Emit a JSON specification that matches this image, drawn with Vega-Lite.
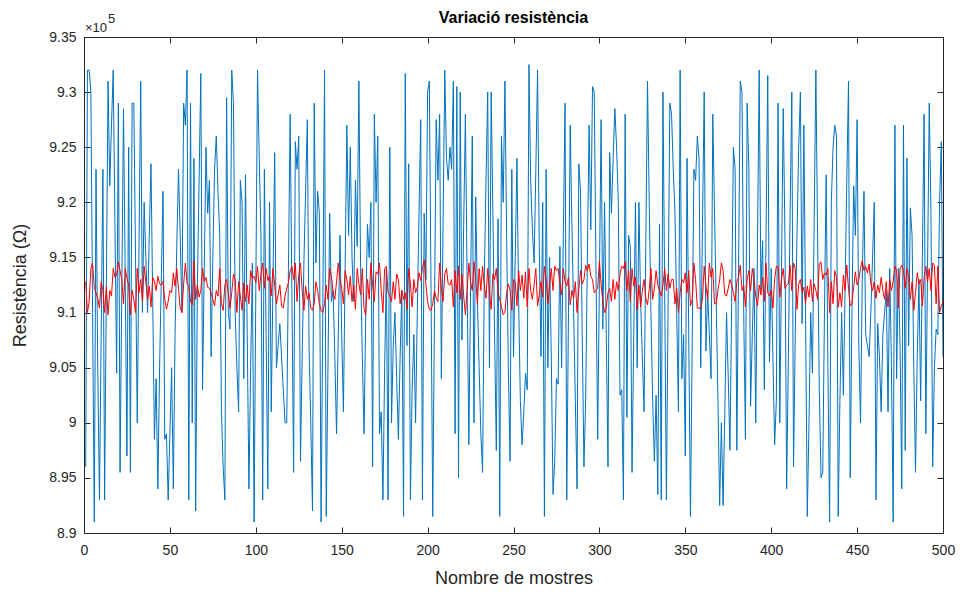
{
"$schema":"https://vega.github.io/schema/vega-lite/v6.json",
"width":859,"height":496,
"autosize":{"type":"none"},
"padding":{"left":84,"top":37,"right":20,"bottom":62},
"background":"#ffffff",
"title":{"text":"Variació resistència","fontSize":16,"fontWeight":"bold","font":"Liberation Sans","color":"#000000","offset":8,"dy":21,"anchor":"middle"},
"config":{"view":{"stroke":null},"axis":{"grid":false,"labelFlush":false,"domainColor":"#262626","tickColor":"#262626","labelColor":"#262626","titleColor":"#262626","labelFont":"Liberation Sans","titleFont":"Liberation Sans","labelFontSize":14,"titleFontSize":18,"titleFontWeight":"normal","tickSize":-6,"domainWidth":1,"tickWidth":1}},
"data":{"values":[
{"i":1,"b":8.96,"r":9.128},{"i":2,"b":9.32,"r":9.100},{"i":3,"b":9.32,"r":9.110},{"i":4,"b":9.30,"r":9.140},{"i":5,"b":9.10,"r":9.145},
{"i":6,"b":8.91,"r":9.122},{"i":7,"b":9.23,"r":9.118},{"i":8,"b":9.05,"r":9.113},{"i":9,"b":8.93,"r":9.104},{"i":10,"b":9.08,"r":9.128},
{"i":11,"b":9.23,"r":9.120},{"i":12,"b":8.93,"r":9.100},{"i":13,"b":9.12,"r":9.123},{"i":14,"b":9.31,"r":9.098},{"i":15,"b":9.215,"r":9.120},
{"i":16,"b":9.27,"r":9.115},{"i":17,"b":9.32,"r":9.140},{"i":18,"b":9.18,"r":9.132},{"i":19,"b":9.045,"r":9.134},{"i":20,"b":9.29,"r":9.146},
{"i":21,"b":8.955,"r":9.138},{"i":22,"b":9.12,"r":9.130},{"i":23,"b":9.285,"r":9.108},{"i":24,"b":9.13,"r":9.140},{"i":25,"b":8.97,"r":9.131},
{"i":26,"b":9.25,"r":9.125},{"i":27,"b":8.955,"r":9.098},{"i":28,"b":9.29,"r":9.120},{"i":29,"b":9.29,"r":9.112},{"i":30,"b":9.15,"r":9.100},
{"i":31,"b":9.00,"r":9.140},{"i":32,"b":9.16,"r":9.118},{"i":33,"b":9.31,"r":9.130},{"i":34,"b":9.10,"r":9.110},{"i":35,"b":9.20,"r":9.142},
{"i":36,"b":9.15,"r":9.128},{"i":37,"b":9.10,"r":9.112},{"i":38,"b":9.17,"r":9.124},{"i":39,"b":9.235,"r":9.105},{"i":40,"b":9.11,"r":9.132},
{"i":41,"b":8.985,"r":9.128},{"i":42,"b":9.04,"r":9.120},{"i":43,"b":8.94,"r":9.133},{"i":44,"b":9.05,"r":9.126},{"i":45,"b":9.13,"r":9.125},
{"i":46,"b":9.21,"r":9.128},{"i":47,"b":8.985,"r":9.112},{"i":48,"b":8.99,"r":9.103},{"i":49,"b":8.93,"r":9.110},{"i":50,"b":8.99,"r":9.120},
{"i":51,"b":9.05,"r":9.118},{"i":52,"b":8.94,"r":9.136},{"i":53,"b":9.08,"r":9.124},{"i":54,"b":9.16,"r":9.140},{"i":55,"b":9.23,"r":9.122},
{"i":56,"b":9.17,"r":9.104},{"i":57,"b":9.10,"r":9.100},{"i":58,"b":9.29,"r":9.126},{"i":59,"b":9.27,"r":9.145},{"i":60,"b":9.32,"r":9.126},
{"i":61,"b":8.93,"r":9.124},{"i":62,"b":9.29,"r":9.110},{"i":63,"b":9.00,"r":9.107},{"i":64,"b":9.24,"r":9.147},{"i":65,"b":8.92,"r":9.112},
{"i":66,"b":9.125,"r":9.125},{"i":67,"b":9.22,"r":9.114},{"i":68,"b":9.317,"r":9.120},{"i":69,"b":9.03,"r":9.140},{"i":70,"b":9.14,"r":9.128},
{"i":71,"b":9.25,"r":9.132},{"i":72,"b":9.19,"r":9.123},{"i":73,"b":9.22,"r":9.122},{"i":74,"b":9.06,"r":9.118},{"i":75,"b":9.15,"r":9.112},
{"i":76,"b":9.23,"r":9.106},{"i":77,"b":9.26,"r":9.120},{"i":78,"b":9.21,"r":9.115},{"i":79,"b":9.17,"r":9.140},{"i":80,"b":9.01,"r":9.108},
{"i":81,"b":8.96,"r":9.102},{"i":82,"b":8.93,"r":9.125},{"i":83,"b":9.295,"r":9.130},{"i":84,"b":9.10,"r":9.117},{"i":85,"b":9.085,"r":9.104},
{"i":86,"b":9.32,"r":9.118},{"i":87,"b":9.29,"r":9.135},{"i":88,"b":9.10,"r":9.130},{"i":89,"b":9.05,"r":9.100},{"i":90,"b":9.01,"r":9.128},
{"i":91,"b":9.22,"r":9.115},{"i":92,"b":9.20,"r":9.102},{"i":93,"b":9.04,"r":9.127},{"i":94,"b":9.225,"r":9.110},{"i":95,"b":9.08,"r":9.125},
{"i":96,"b":8.94,"r":9.108},{"i":97,"b":9.05,"r":9.138},{"i":98,"b":9.145,"r":9.131},{"i":99,"b":8.91,"r":9.133},{"i":100,"b":9.12,"r":9.127},
{"i":101,"b":9.32,"r":9.142},{"i":102,"b":9.24,"r":9.120},{"i":103,"b":9.17,"r":9.135},{"i":104,"b":8.93,"r":9.145},{"i":105,"b":9.23,"r":9.122},
{"i":106,"b":9.08,"r":9.140},{"i":107,"b":8.94,"r":9.129},{"i":108,"b":9.20,"r":9.133},{"i":109,"b":9.01,"r":9.115},{"i":110,"b":9.13,"r":9.140},
{"i":111,"b":9.245,"r":9.125},{"i":112,"b":9.05,"r":9.108},{"i":113,"b":9.07,"r":9.116},{"i":114,"b":9.09,"r":9.125},{"i":115,"b":9.06,"r":9.106},
{"i":116,"b":9.03,"r":9.104},{"i":117,"b":9.00,"r":9.115},{"i":118,"b":9.00,"r":9.122},{"i":119,"b":9.14,"r":9.127},{"i":120,"b":9.28,"r":9.138},
{"i":121,"b":9.12,"r":9.142},{"i":122,"b":8.955,"r":9.130},{"i":123,"b":9.255,"r":9.145},{"i":124,"b":9.23,"r":9.110},{"i":125,"b":9.26,"r":9.134},
{"i":126,"b":8.965,"r":9.145},{"i":127,"b":9.06,"r":9.120},{"i":128,"b":9.145,"r":9.102},{"i":129,"b":9.21,"r":9.124},{"i":130,"b":9.275,"r":9.112},
{"i":131,"b":9.07,"r":9.118},{"i":132,"b":9.00,"r":9.104},{"i":133,"b":8.92,"r":9.102},{"i":134,"b":9.29,"r":9.108},{"i":135,"b":9.145,"r":9.128},
{"i":136,"b":9.21,"r":9.120},{"i":137,"b":9.19,"r":9.108},{"i":138,"b":8.91,"r":9.102},{"i":139,"b":9.10,"r":9.100},{"i":140,"b":9.32,"r":9.108},
{"i":141,"b":8.915,"r":9.125},{"i":142,"b":9.05,"r":9.112},{"i":143,"b":9.19,"r":9.140},{"i":144,"b":9.11,"r":9.133},{"i":145,"b":9.12,"r":9.118},
{"i":146,"b":9.06,"r":9.112},{"i":147,"b":8.99,"r":9.128},{"i":148,"b":9.08,"r":9.145},{"i":149,"b":9.17,"r":9.130},{"i":150,"b":9.08,"r":9.122},
{"i":151,"b":9.01,"r":9.108},{"i":152,"b":9.14,"r":9.138},{"i":153,"b":9.27,"r":9.130},{"i":154,"b":9.17,"r":9.116},{"i":155,"b":9.25,"r":9.133},
{"i":156,"b":9.15,"r":9.110},{"i":157,"b":9.11,"r":9.125},{"i":158,"b":9.22,"r":9.103},{"i":159,"b":9.16,"r":9.140},{"i":160,"b":9.31,"r":9.126},
{"i":161,"b":9.14,"r":9.116},{"i":162,"b":9.06,"r":9.140},{"i":163,"b":8.99,"r":9.103},{"i":164,"b":9.10,"r":9.098},{"i":165,"b":9.18,"r":9.130},
{"i":166,"b":9.15,"r":9.112},{"i":167,"b":9.20,"r":9.145},{"i":168,"b":8.96,"r":9.125},{"i":169,"b":9.28,"r":9.110},{"i":170,"b":9.20,"r":9.137},
{"i":171,"b":9.26,"r":9.135},{"i":172,"b":8.99,"r":9.145},{"i":173,"b":9.01,"r":9.120},{"i":174,"b":8.93,"r":9.100},{"i":175,"b":9.05,"r":9.140},
{"i":176,"b":9.14,"r":9.142},{"i":177,"b":8.93,"r":9.118},{"i":178,"b":9.25,"r":9.115},{"i":179,"b":9.00,"r":9.110},{"i":180,"b":9.07,"r":9.128},
{"i":181,"b":9.10,"r":9.112},{"i":182,"b":9.04,"r":9.135},{"i":183,"b":8.985,"r":9.130},{"i":184,"b":9.06,"r":9.108},{"i":185,"b":9.12,"r":9.120},
{"i":186,"b":8.915,"r":9.112},{"i":187,"b":9.317,"r":9.118},{"i":188,"b":9.07,"r":9.103},{"i":189,"b":9.235,"r":9.140},{"i":190,"b":8.93,"r":9.126},
{"i":191,"b":9.03,"r":9.105},{"i":192,"b":9.08,"r":9.130},{"i":193,"b":9.00,"r":9.118},{"i":194,"b":9.10,"r":9.123},{"i":195,"b":9.19,"r":9.136},
{"i":196,"b":9.275,"r":9.129},{"i":197,"b":8.93,"r":9.140},{"i":198,"b":9.19,"r":9.148},{"i":199,"b":9.13,"r":9.126},{"i":200,"b":9.30,"r":9.110},
{"i":201,"b":9.31,"r":9.103},{"i":202,"b":9.12,"r":9.102},{"i":203,"b":8.915,"r":9.108},{"i":204,"b":9.10,"r":9.120},{"i":205,"b":9.275,"r":9.113},
{"i":206,"b":9.22,"r":9.110},{"i":207,"b":9.28,"r":9.145},{"i":208,"b":9.04,"r":9.122},{"i":209,"b":9.18,"r":9.110},{"i":210,"b":9.32,"r":9.135},
{"i":211,"b":9.24,"r":9.140},{"i":212,"b":9.22,"r":9.126},{"i":213,"b":9.25,"r":9.125},{"i":214,"b":9.23,"r":9.130},{"i":215,"b":9.31,"r":9.105},
{"i":216,"b":8.99,"r":9.138},{"i":217,"b":9.305,"r":9.118},{"i":218,"b":8.95,"r":9.142},{"i":219,"b":9.30,"r":9.112},{"i":220,"b":9.075,"r":9.135},
{"i":221,"b":9.18,"r":9.115},{"i":222,"b":9.28,"r":9.098},{"i":223,"b":9.13,"r":9.120},{"i":224,"b":8.98,"r":9.145},{"i":225,"b":9.12,"r":9.128},
{"i":226,"b":9.26,"r":9.120},{"i":227,"b":9.00,"r":9.146},{"i":228,"b":9.205,"r":9.131},{"i":229,"b":9.11,"r":9.108},{"i":230,"b":9.05,"r":9.140},
{"i":231,"b":8.99,"r":9.120},{"i":232,"b":8.955,"r":9.142},{"i":233,"b":9.13,"r":9.125},{"i":234,"b":9.22,"r":9.113},{"i":235,"b":9.30,"r":9.140},
{"i":236,"b":9.05,"r":9.118},{"i":237,"b":9.30,"r":9.103},{"i":238,"b":9.19,"r":9.135},{"i":239,"b":9.08,"r":9.130},{"i":240,"b":8.975,"r":9.140},
{"i":241,"b":9.185,"r":9.118},{"i":242,"b":8.915,"r":9.112},{"i":243,"b":9.26,"r":9.105},{"i":244,"b":9.20,"r":9.098},{"i":245,"b":9.31,"r":9.100},
{"i":246,"b":9.17,"r":9.118},{"i":247,"b":9.05,"r":9.126},{"i":248,"b":8.965,"r":9.120},{"i":249,"b":9.23,"r":9.102},{"i":250,"b":9.06,"r":9.130},
{"i":251,"b":9.15,"r":9.128},{"i":252,"b":9.24,"r":9.106},{"i":253,"b":9.11,"r":9.138},{"i":254,"b":9.02,"r":9.120},{"i":255,"b":8.98,"r":9.134},
{"i":256,"b":9.01,"r":9.113},{"i":257,"b":9.045,"r":9.137},{"i":258,"b":9.03,"r":9.105},{"i":259,"b":9.325,"r":9.140},{"i":260,"b":9.22,"r":9.120},
{"i":261,"b":9.175,"r":9.112},{"i":262,"b":9.145,"r":9.125},{"i":263,"b":9.23,"r":9.140},{"i":264,"b":9.32,"r":9.106},{"i":265,"b":9.16,"r":9.116},
{"i":266,"b":9.06,"r":9.128},{"i":267,"b":9.20,"r":9.114},{"i":268,"b":8.915,"r":9.142},{"i":269,"b":9.23,"r":9.130},{"i":270,"b":9.05,"r":9.108},
{"i":271,"b":9.15,"r":9.124},{"i":272,"b":9.06,"r":9.140},{"i":273,"b":8.935,"r":9.120},{"i":274,"b":8.965,"r":9.142},{"i":275,"b":9.04,"r":9.138},
{"i":276,"b":9.035,"r":9.140},{"i":277,"b":9.16,"r":9.126},{"i":278,"b":9.05,"r":9.116},{"i":279,"b":9.17,"r":9.140},{"i":280,"b":9.29,"r":9.128},
{"i":281,"b":8.93,"r":9.124},{"i":282,"b":9.10,"r":9.132},{"i":283,"b":9.27,"r":9.107},{"i":284,"b":9.18,"r":9.120},{"i":285,"b":9.10,"r":9.113},
{"i":286,"b":9.02,"r":9.128},{"i":287,"b":8.94,"r":9.100},{"i":288,"b":9.235,"r":9.120},{"i":289,"b":9.21,"r":9.138},{"i":290,"b":9.08,"r":9.126},
{"i":291,"b":8.96,"r":9.130},{"i":292,"b":9.02,"r":9.143},{"i":293,"b":9.15,"r":9.138},{"i":294,"b":9.27,"r":9.144},{"i":295,"b":9.175,"r":9.133},
{"i":296,"b":9.305,"r":9.130},{"i":297,"b":9.30,"r":9.118},{"i":298,"b":9.14,"r":9.120},{"i":299,"b":8.985,"r":9.122},{"i":300,"b":9.13,"r":9.147},
{"i":301,"b":9.275,"r":9.125},{"i":302,"b":9.085,"r":9.110},{"i":303,"b":9.20,"r":9.100},{"i":304,"b":9.08,"r":9.104},{"i":305,"b":8.96,"r":9.118},
{"i":306,"b":9.245,"r":9.122},{"i":307,"b":9.19,"r":9.110},{"i":308,"b":9.24,"r":9.130},{"i":309,"b":9.285,"r":9.112},{"i":310,"b":9.25,"r":9.128},
{"i":311,"b":9.20,"r":9.120},{"i":312,"b":9.025,"r":9.135},{"i":313,"b":9.03,"r":9.142},{"i":314,"b":8.93,"r":9.140},{"i":315,"b":9.28,"r":9.146},
{"i":316,"b":9.005,"r":9.120},{"i":317,"b":9.17,"r":9.138},{"i":318,"b":9.16,"r":9.110},{"i":319,"b":8.955,"r":9.140},{"i":320,"b":9.08,"r":9.124},
{"i":321,"b":9.20,"r":9.132},{"i":322,"b":9.05,"r":9.103},{"i":323,"b":9.20,"r":9.125},{"i":324,"b":9.11,"r":9.105},{"i":325,"b":9.06,"r":9.120},
{"i":326,"b":9.01,"r":9.130},{"i":327,"b":9.16,"r":9.113},{"i":328,"b":9.31,"r":9.107},{"i":329,"b":9.20,"r":9.121},{"i":330,"b":9.10,"r":9.140},
{"i":331,"b":9.02,"r":9.112},{"i":332,"b":8.965,"r":9.122},{"i":333,"b":9.025,"r":9.138},{"i":334,"b":8.935,"r":9.125},{"i":335,"b":9.18,"r":9.120},
{"i":336,"b":8.93,"r":9.115},{"i":337,"b":9.30,"r":9.125},{"i":338,"b":9.12,"r":9.140},{"i":339,"b":8.93,"r":9.120},{"i":340,"b":9.11,"r":9.135},
{"i":341,"b":9.29,"r":9.122},{"i":342,"b":9.28,"r":9.130},{"i":343,"b":9.23,"r":9.130},{"i":344,"b":9.19,"r":9.108},{"i":345,"b":9.10,"r":9.122},
{"i":346,"b":9.01,"r":9.100},{"i":347,"b":9.32,"r":9.118},{"i":348,"b":9.04,"r":9.130},{"i":349,"b":9.08,"r":9.127},{"i":350,"b":8.97,"r":9.136},
{"i":351,"b":9.24,"r":9.118},{"i":352,"b":9.08,"r":9.138},{"i":353,"b":8.915,"r":9.106},{"i":354,"b":9.07,"r":9.112},{"i":355,"b":9.23,"r":9.145},
{"i":356,"b":9.22,"r":9.130},{"i":357,"b":9.26,"r":9.104},{"i":358,"b":9.24,"r":9.104},{"i":359,"b":9.05,"r":9.104},{"i":360,"b":9.18,"r":9.112},
{"i":361,"b":9.30,"r":9.142},{"i":362,"b":9.065,"r":9.125},{"i":363,"b":9.12,"r":9.112},{"i":364,"b":9.08,"r":9.145},{"i":365,"b":9.04,"r":9.132},
{"i":366,"b":9.28,"r":9.140},{"i":367,"b":9.19,"r":9.108},{"i":368,"b":9.11,"r":9.108},{"i":369,"b":9.02,"r":9.120},{"i":370,"b":8.925,"r":9.130},
{"i":371,"b":9.00,"r":9.145},{"i":372,"b":8.925,"r":9.138},{"i":373,"b":9.01,"r":9.116},{"i":374,"b":9.10,"r":9.115},{"i":375,"b":9.04,"r":9.122},
{"i":376,"b":8.975,"r":9.130},{"i":377,"b":9.11,"r":9.125},{"i":378,"b":9.25,"r":9.118},{"i":379,"b":9.23,"r":9.110},{"i":380,"b":8.975,"r":9.128},
{"i":381,"b":9.14,"r":9.132},{"i":382,"b":9.31,"r":9.143},{"i":383,"b":9.30,"r":9.120},{"i":384,"b":9.10,"r":9.125},{"i":385,"b":8.985,"r":9.105},
{"i":386,"b":9.29,"r":9.130},{"i":387,"b":9.23,"r":9.138},{"i":388,"b":9.015,"r":9.120},{"i":389,"b":9.08,"r":9.140},{"i":390,"b":9.14,"r":9.130},
{"i":391,"b":9.00,"r":9.115},{"i":392,"b":9.16,"r":9.106},{"i":393,"b":9.32,"r":9.125},{"i":394,"b":9.12,"r":9.116},{"i":395,"b":9.165,"r":9.132},
{"i":396,"b":9.03,"r":9.110},{"i":397,"b":9.17,"r":9.145},{"i":398,"b":9.315,"r":9.118},{"i":399,"b":9.055,"r":9.115},{"i":400,"b":9.14,"r":9.120},
{"i":401,"b":9.06,"r":9.104},{"i":402,"b":8.98,"r":9.130},{"i":403,"b":9.02,"r":9.142},{"i":404,"b":9.29,"r":9.142},{"i":405,"b":9.00,"r":9.114},
{"i":406,"b":9.14,"r":9.130},{"i":407,"b":9.285,"r":9.140},{"i":408,"b":9.17,"r":9.122},{"i":409,"b":8.94,"r":9.125},{"i":410,"b":9.06,"r":9.126},
{"i":411,"b":9.19,"r":9.143},{"i":412,"b":9.30,"r":9.120},{"i":413,"b":8.96,"r":9.145},{"i":414,"b":9.08,"r":9.140},{"i":415,"b":9.17,"r":9.103},
{"i":416,"b":9.25,"r":9.126},{"i":417,"b":9.30,"r":9.130},{"i":418,"b":9.09,"r":9.118},{"i":419,"b":9.27,"r":9.123},{"i":420,"b":9.10,"r":9.108},
{"i":421,"b":8.915,"r":9.124},{"i":422,"b":9.00,"r":9.114},{"i":423,"b":9.10,"r":9.130},{"i":424,"b":9.045,"r":9.110},{"i":425,"b":9.18,"r":9.126},
{"i":426,"b":9.32,"r":9.120},{"i":427,"b":9.17,"r":9.112},{"i":428,"b":9.03,"r":9.144},{"i":429,"b":8.95,"r":9.146},{"i":430,"b":8.955,"r":9.130},
{"i":431,"b":9.10,"r":9.136},{"i":432,"b":9.225,"r":9.134},{"i":433,"b":9.05,"r":9.140},{"i":434,"b":8.91,"r":9.100},{"i":435,"b":9.20,"r":9.128},
{"i":436,"b":9.25,"r":9.108},{"i":437,"b":9.27,"r":9.138},{"i":438,"b":9.26,"r":9.132},{"i":439,"b":8.915,"r":9.105},{"i":440,"b":9.02,"r":9.118},
{"i":441,"b":9.10,"r":9.105},{"i":442,"b":9.025,"r":9.134},{"i":443,"b":9.12,"r":9.120},{"i":444,"b":9.22,"r":9.143},{"i":445,"b":9.31,"r":9.122},
{"i":446,"b":8.95,"r":9.106},{"i":447,"b":9.10,"r":9.108},{"i":448,"b":9.215,"r":9.123},{"i":449,"b":9.17,"r":9.137},{"i":450,"b":9.275,"r":9.125},
{"i":451,"b":9.07,"r":9.130},{"i":452,"b":9.00,"r":9.140},{"i":453,"b":9.13,"r":9.147},{"i":454,"b":9.21,"r":9.138},{"i":455,"b":9.08,"r":9.142},
{"i":456,"b":9.07,"r":9.136},{"i":457,"b":9.06,"r":9.144},{"i":458,"b":9.10,"r":9.126},{"i":459,"b":9.15,"r":9.120},{"i":460,"b":9.20,"r":9.128},
{"i":461,"b":8.93,"r":9.113},{"i":462,"b":9.09,"r":9.125},{"i":463,"b":9.06,"r":9.118},{"i":464,"b":9.01,"r":9.132},{"i":465,"b":9.08,"r":9.120},
{"i":466,"b":9.10,"r":9.112},{"i":467,"b":9.12,"r":9.128},{"i":468,"b":9.01,"r":9.105},{"i":469,"b":9.14,"r":9.130},{"i":470,"b":9.05,"r":9.120},
{"i":471,"b":8.91,"r":9.128},{"i":472,"b":9.27,"r":9.142},{"i":473,"b":9.04,"r":9.138},{"i":474,"b":9.14,"r":9.104},{"i":475,"b":9.07,"r":9.140},
{"i":476,"b":8.94,"r":9.143},{"i":477,"b":9.27,"r":9.138},{"i":478,"b":8.975,"r":9.122},{"i":479,"b":9.24,"r":9.140},{"i":480,"b":9.07,"r":9.132},
{"i":481,"b":9.195,"r":9.112},{"i":482,"b":9.17,"r":9.128},{"i":483,"b":9.05,"r":9.102},{"i":484,"b":8.955,"r":9.118},{"i":485,"b":9.06,"r":9.136},
{"i":486,"b":9.13,"r":9.126},{"i":487,"b":9.02,"r":9.130},{"i":488,"b":9.15,"r":9.106},{"i":489,"b":9.28,"r":9.132},{"i":490,"b":8.99,"r":9.142},
{"i":491,"b":9.14,"r":9.128},{"i":492,"b":9.29,"r":9.140},{"i":493,"b":9.19,"r":9.120},{"i":494,"b":8.96,"r":9.145},{"i":495,"b":9.05,"r":9.143},
{"i":496,"b":9.085,"r":9.108},{"i":497,"b":9.08,"r":9.142},{"i":498,"b":9.20,"r":9.100},{"i":499,"b":9.255,"r":9.106},{"i":500,"b":9.06,"r":9.110}
]},
"layer":[
{"mark":{"type":"line","color":"#0072BD","strokeWidth":1,"clip":true},
 "encoding":{
  "x":{"field":"i","type":"quantitative","scale":{"domain":[0,500],"nice":false,"zero":false},
       "axis":{"orient":"bottom","values":[0,50,100,150,200,250,300,350,400,450,500],"title":"Nombre de mostres","labelPadding":16,"titlePadding":12}},
  "y":{"field":"b","type":"quantitative","scale":{"domain":[8.9,9.35],"nice":false,"zero":false},
       "axis":{"orient":"left","values":[8.9,8.95,9,9.05,9.1,9.15,9.2,9.25,9.3,9.35],"format":"~g","title":"Resistència (Ω)","labelPadding":14,"titlePadding":19}}}},
{"mark":{"type":"line","color":"#FF0000","strokeWidth":1,"clip":true},
 "encoding":{
  "x":{"field":"i","type":"quantitative","scale":{"domain":[0,500],"nice":false,"zero":false},
       "axis":{"orient":"top","values":[0,50,100,150,200,250,300,350,400,450,500],"labels":false,"title":null}},
  "y":{"field":"r","type":"quantitative","scale":{"domain":[8.9,9.35],"nice":false,"zero":false},
       "axis":{"orient":"right","values":[8.9,8.95,9,9.05,9.1,9.15,9.2,9.25,9.3,9.35],"labels":false,"title":null}}}},
{"data":{"values":[{"i":0,"v":9.35,"t":"×10"}]},
 "mark":{"type":"text","align":"left","baseline":"alphabetic","dy":-5,"dx":1,"font":"Liberation Sans","fontSize":13,"color":"#262626"},
 "encoding":{
  "x":{"field":"i","type":"quantitative","scale":{"domain":[0,500],"nice":false,"zero":false},"axis":null},
  "y":{"field":"v","type":"quantitative","scale":{"domain":[8.9,9.35],"nice":false,"zero":false},"axis":null},
  "text":{"field":"t"}}},
{"data":{"values":[{"i":0,"v":9.35,"t":"5"}]},
 "mark":{"type":"text","align":"left","baseline":"alphabetic","dy":-14,"dx":24,"font":"Liberation Sans","fontSize":13,"color":"#262626"},
 "encoding":{
  "x":{"field":"i","type":"quantitative","scale":{"domain":[0,500],"nice":false,"zero":false},"axis":null},
  "y":{"field":"v","type":"quantitative","scale":{"domain":[8.9,9.35],"nice":false,"zero":false},"axis":null},
  "text":{"field":"t"}}}
],
"resolve":{"axis":{"x":"independent","y":"independent"}}
}
